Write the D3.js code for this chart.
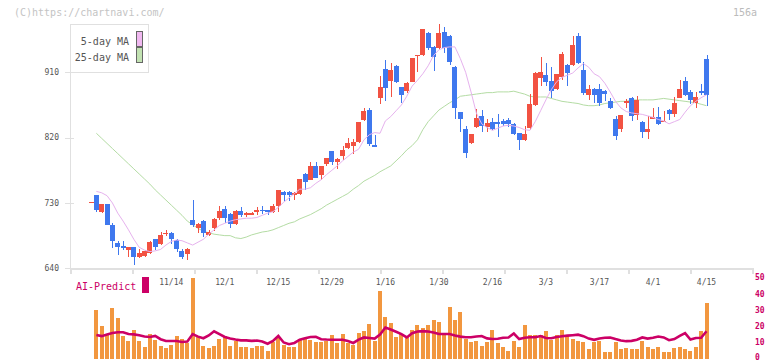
<!DOCTYPE html>
<html>
<head>
<meta charset="utf-8">
<script src="https://cdnjs.cloudflare.com/ajax/libs/d3/7.8.5/d3.min.js"></script>
<style>
body { margin: 0; background: #fff; }
svg text { font-family: "DejaVu Sans Mono", monospace; }
</style>
</head>
<body>
<div id="chart"></div>
<script>
// daily candles, oldest first
var opens  = [731,741,718,728,700,675,671,665,669,656, 657,661,680,673,688,689,679,664,660,706,
              695,705,686,696,709,722,715,701,719,713, 715,719,721,720,718,726,745,745,741,742,
              770,762,781,768,784,802,786,795,806,808, 814,844,858,810,875,914,898,919,890,884,
              897,932,934,964,945,944,965,960,917,855, 832,813,835,850,835,841,841,843,844,839,
              826,817,833,865,902,906,898,887,904,920, 920,960,913,879,887,887,884,870,846,832,
              868,875,851,841,828,846,848,841,858,853, 875,898,883,868,884,928];
var highs  = [732,741,729,729,703,678,678,670,670,667, 665,677,681,690,693,690,680,667,668,734,
              703,706,693,709,726,726,716,720,724,718, 718,725,726,721,729,748,747,746,745,763,
              771,786,786,781,792,802,792,808,820,818, 842,861,861,824,905,927,923,920,890,897,
              930,934,970,965,946,976,972,961,918,856, 836,825,859,858,846,847,853,846,847,840,
              827,836,880,910,931,923,917,908,938,921, 960,964,924,892,888,894,886,875,850,851,
              873,876,877,843,850,861,862,857,859,876, 899,904,886,883,894,934];
var lows   = [731,717,716,699,668,658,665,656,644,654, 655,660,665,672,685,673,662,653,651,697,
              688,683,684,692,707,702,696,700,711,711, 713,713,715,713,716,718,733,733,734,741,
              748,761,764,762,781,782,777,789,805,797, 813,843,808,807,866,870,876,895,868,881,
              896,910,933,941,912,941,937,920,846,828, 792,811,833,828,828,830,821,836,835,823,
              803,816,830,864,891,891,875,886,899,891, 919,922,879,872,868,864,870,859,817,828,
              861,843,844,819,818,845,838,841,844,848, 874,877,866,861,879,864];
var closes = [732,720,729,700,677,670,668,669,655,661, 664,676,670,686,689,680,667,656,667,700,
              701,689,690,708,719,709,701,719,713,716, 716,720,719,717,726,748,741,741,744,763,
              759,781,765,781,792,786,791,803,813,814, 841,857,811,807,890,888,913,897,879,895,
              930,934,970,944,931,964,944,924,861,846, 799,825,847,836,840,832,839,839,839,825,
              817,825,866,909,910,897,884,908,935,909, 948,923,882,887,879,868,880,861,822,851,
              870,850,872,828,832,848,839,843,853,868, 887,879,872,876,882,879];

// moving averages (no value on the first day)
var ma5  = [null,
            746,744,740,730,716,705,693,680,669,665, 663,664,666,672,677,679,678,675,672,676,
            680,687,693,699,702,705,707,708,709,709, 710,713,716,718,724,731,737,743,749,749,
            751,757,762,769,775,781,788,794,800,804, 817,824,827,826,843,849,857,865,877,891,
            899,908,919,933,941,944,945,945,929,910, 883,854,839,834,830,833,836,837,836,834,
            831,830,842,857,872,886,897,903,906,909, 916,922,917,908,904,895,883,870,861,856,
            854,853,852,850,848,845,843,839,842,845, 855,864,870,875,879];
var ma25 = [null,
            826,819,812,805,798,791,784,777,770,763, 756,748,741,734,727,720,713,705,700,695,
            691,689,687,686,685,685,682,681,683,686, 688,690,691,693,696,699,702,704,708,711,
            714,718,722,727,731,735,739,743,749,754, 760,764,768,773,777,781,788,795,803,809,
            817,831,842,850,858,863,868,872,877,878, 879,880,881,882,882,883,883,883,884,882,
            880,877,876,876,876,874,872,870,869,868, 867,865,864,864,865,867,868,869,870,870,
            872,872,872,872,872,873,874,873,872,871, 870,869,868,866,864];

// lower panel
var volumes = [0,
            30.2,19.8,14.2,30.9,25.3,13.6,11.1,17.9,11.1,6.8, 15.4,11.7,8.0,6.2,8.6,13.6,12.3,9.3,49.4,13.0,
            8.0,6.2,8.0,12.3,13.6,8.0,10.5,7.4,7.4,6.2, 8.0,8.0,4.9,9.9,13.0,8.6,7.4,6.8,11.7,12.3,
            11.7,9.9,9.9,10.5,14.2,9.3,15.4,9.3,8.6,16.0, 16.7,21.0,10.5,41.4,25.9,22.2,13.0,15.4,13.0,17.3,
            20.4,19.1,20.4,23.5,22.8,14.2,31.5,23.5,28.4,12.3, 9.9,11.1,8.0,9.9,17.3,9.3,6.8,4.9,11.1,7.4,
            20.4,14.2,14.2,14.2,16.7,11.7,14.2,17.3,13.6,12.3, 11.1,9.9,5.6,9.9,11.1,4.3,4.3,9.9,5.6,6.2,
            5.6,5.6,11.1,7.4,5.6,6.8,4.3,4.3,6.2,6.8, 5.6,4.9,6.8,16.7,34.0];
var aiPredict = [null,
            14.5,13.8,14.8,15.7,16.2,16.2,15.1,14.9,14.3,13.6, 13.3,13.9,11.9,10.8,10.8,10.8,10.2,10.5,15.1,13.5,
            12.5,14.2,16.8,15.1,13.3,12.3,11.7,11.2,11.2,10.9, 11.1,10.5,9.1,10.8,13.9,9.9,8.8,9.6,11.6,12.5,
            13.3,13.4,11.9,11.7,11.6,11.6,11.6,10.8,9.6,11.7, 13.0,12.7,12.3,14.8,19.1,17.9,16.5,15.1,13.0,15.6,
            16.7,16.9,16.7,16.0,15.1,15.1,15.1,14.2,13.5,13.1, 13.1,13.6,13.9,12.4,12.0,12.2,12.8,13.0,15.4,12.0,
            12.8,13.1,13.1,13.9,12.7,12.5,13.3,13.7,14.1,14.4, 14.7,13.8,12.3,11.5,12.4,12.8,13.0,12.0,11.1,10.7,
            10.9,11.6,13.0,12.3,12.8,13.6,13.0,11.3,12.0,13.9, 15.7,11.7,12.7,12.8,16.8];

var dateLabels = ["11/14","12/1","12/15","12/29","1/16","1/30","2/16","3/3","3/17","4/1","4/15"];
var dateIndex  = [15,25,35,45,55,65,75,85,95,105,115];
var priceTicks = [640,730,820,910];
var volTicks   = [0,10,20,30,40,50];

var upColor = "#f25242", downColor = "#3f78ee";
var gridColor = "#e0e0e0", textColor = "#555";
var aiColor = "#cc0066";

CandleChart = function(_parentElement){
    this.parentElement = _parentElement;
    this.initVis();
}

CandleChart.prototype.initVis = function(){
    var vis = this;

    vis.width = 772;
    vis.height = 361;

    vis.svg = d3.select("#" + vis.parentElement).append("svg")
        .attr("width", vis.width)
        .attr("height", vis.height);

    vis.x = d3.scaleLinear().domain([0, opens.length - 1]).range([91, 706.5]);
    vis.y = d3.scaleLinear().domain([640, 910]).range([268.3, 72.3]);
    vis.v = d3.scaleLinear().domain([0, 50]).range([358.5, 277.5]);
    // grid ticks along the bottom, independent from the dates
    vis.gx = d3.scaleLinear().domain([0, 11]).range([70.5, 752.5]);

    // header texts
    vis.svg.append("text")
        .attr("x", 14).attr("y", 16)
        .style("font-size", "10px").attr("fill", "#c4c4c4")
        .text("(C)https://chartnavi.com/");
    vis.svg.append("text")
        .attr("x", 757).attr("y", 16)
        .attr("text-anchor", "end")
        .style("font-size", "10px").attr("fill", "#bbb")
        .text("156a");

    vis.drawAxes();
    vis.drawLower();
    vis.drawCandles();
    vis.drawLegend();
}

CandleChart.prototype.drawAxes = function(){
    var vis = this;

    var g = vis.svg.append("g").attr("shape-rendering", "crispEdges");

    g.append("line")
        .attr("x1", 70.5).attr("x2", 70.5)
        .attr("y1", 24).attr("y2", 269)
        .attr("stroke", gridColor);
    g.append("line")
        .attr("x1", 70).attr("x2", 753)
        .attr("y1", 268.5).attr("y2", 268.5)
        .attr("stroke", gridColor).attr("stroke-width", 2);

    g.selectAll(".xtick")
        .data(d3.range(12))
        .enter().append("line")
        .attr("class", "xtick")
        .attr("x1", function(d) { return vis.gx(d); })
        .attr("x2", function(d) { return vis.gx(d); })
        .attr("y1", 268).attr("y2", 274)
        .attr("stroke", gridColor).attr("stroke-width", 2);

    g.selectAll(".ytick")
        .data(priceTicks)
        .enter().append("line")
        .attr("class", "ytick")
        .attr("x1", 65).attr("x2", 74)
        .attr("y1", function(d) { return Math.round(vis.y(d)) + 0.5; })
        .attr("y2", function(d) { return Math.round(vis.y(d)) + 0.5; })
        .attr("stroke", gridColor);

    vis.svg.selectAll(".ylabel")
        .data(priceTicks)
        .enter().append("text")
        .attr("class", "ylabel")
        .attr("x", 59)
        .attr("y", function(d) { return vis.y(d) + 2.8; })
        .attr("text-anchor", "end")
        .style("font-size", "8px").attr("fill", textColor)
        .text(function(d) { return d; });

    vis.svg.selectAll(".xlabel")
        .data(dateIndex)
        .enter().append("text")
        .attr("class", "xlabel")
        .attr("x", function(d) { return vis.x(d); })
        .attr("y", 285)
        .attr("text-anchor", "middle")
        .style("font-size", "8px").attr("fill", textColor)
        .text(function(d, i) { return dateLabels[i]; });
}

CandleChart.prototype.drawLower = function(){
    var vis = this;

    vis.svg.append("g").attr("shape-rendering", "crispEdges")
        .selectAll(".vol")
        .data(volumes)
        .enter().append("rect")
        .attr("class", "vol")
        .attr("x", function(d, i) { return vis.x(i) - 2; })
        .attr("width", 4)
        .attr("y", function(d) { return vis.v(d); })
        .attr("height", function(d) { return vis.v(0) + 0.5 - vis.v(d); })
        .attr("fill", "#f2973f");

    var line = d3.line()
        .defined(function(d) { return d != null; })
        .x(function(d, i) { return vis.x(i); })
        .y(function(d) { return vis.v(d); });

    vis.svg.append("path")
        .datum(aiPredict)
        .attr("d", line)
        .attr("fill", "none")
        .attr("stroke", aiColor)
        .attr("stroke-width", 2.6);

    // bottom label kept inside the window
    vis.svg.selectAll(".vlabel")
        .data(volTicks)
        .enter().append("text")
        .attr("class", "vlabel")
        .attr("x", 755)
        .attr("y", function(d) { return Math.min(vis.v(d) + 2.8, 359.5); })
        .style("font-size", "8px").style("font-weight", "bold")
        .attr("fill", aiColor)
        .text(function(d) { return d; });

    vis.svg.append("text")
        .attr("x", 76).attr("y", 290)
        .style("font-size", "10px").attr("fill", aiColor)
        .text("AI-Predict");
    vis.svg.append("rect")
        .attr("x", 142).attr("y", 277)
        .attr("width", 7).attr("height", 16)
        .attr("fill", aiColor);
}

CandleChart.prototype.drawCandles = function(){
    var vis = this;

    var line = d3.line()
        .defined(function(d) { return d != null; })
        .x(function(d, i) { return vis.x(i); })
        .y(function(d) { return vis.y(d); });

    vis.svg.append("path")
        .datum(ma25)
        .attr("d", line)
        .attr("fill", "none")
        .attr("stroke", "#b4dca4")
        .attr("stroke-width", 1);

    var g = vis.svg.append("g").attr("shape-rendering", "crispEdges");

    var candle = g.selectAll(".candle")
        .data(opens)
        .enter().append("g")
        .attr("class", "candle");

    candle.append("line")
        .attr("x1", function(d, i) { return Math.round(vis.x(i)) + 0.5; })
        .attr("x2", function(d, i) { return Math.round(vis.x(i)) + 0.5; })
        .attr("y1", function(d, i) { return vis.y(highs[i]); })
        .attr("y2", function(d, i) { return vis.y(lows[i]); })
        .attr("stroke", function(d, i) { return closes[i] >= d ? upColor : downColor; })
        .attr("stroke-width", 1.5);

    candle.append("rect")
        .attr("x", function(d, i) { return vis.x(i) - 2.5; })
        .attr("width", 5)
        .attr("y", function(d, i) { return vis.y(Math.max(d, closes[i])); })
        .attr("height", function(d, i) {
            return Math.max(1.5, Math.abs(vis.y(d) - vis.y(closes[i])));
        })
        .attr("fill", function(d, i) { return closes[i] >= d ? upColor : downColor; });

    vis.svg.append("path")
        .datum(ma5)
        .attr("d", line)
        .attr("fill", "none")
        .attr("stroke", "#e6b2ee")
        .attr("stroke-width", 1);
}

CandleChart.prototype.drawLegend = function(){
    var vis = this;

    var lg = vis.svg.append("g").attr("shape-rendering", "crispEdges");
    lg.append("rect")
        .attr("x", 70.5).attr("y", 24.5)
        .attr("width", 78).attr("height", 48)
        .attr("fill", "#fff")
        .attr("stroke", gridColor);

    var items = [{label: "5-day MA", color: "#f0b8f0"}, {label: "25-day MA", color: "#c2e2b2"}];
    items.forEach(function(d, i) {
        lg.append("text")
            .attr("x", 129).attr("y", 45 + i * 16)
            .attr("text-anchor", "end")
            .style("font-size", "10px").attr("fill", textColor)
            .text(d.label);
        lg.append("rect")
            .attr("x", 136.5).attr("y", 31.5 + i * 16)
            .attr("width", 6).attr("height", 15)
            .attr("fill", d.color)
            .attr("stroke", "#666");
    });
}

new CandleChart("chart");
</script>
</body>
</html>
